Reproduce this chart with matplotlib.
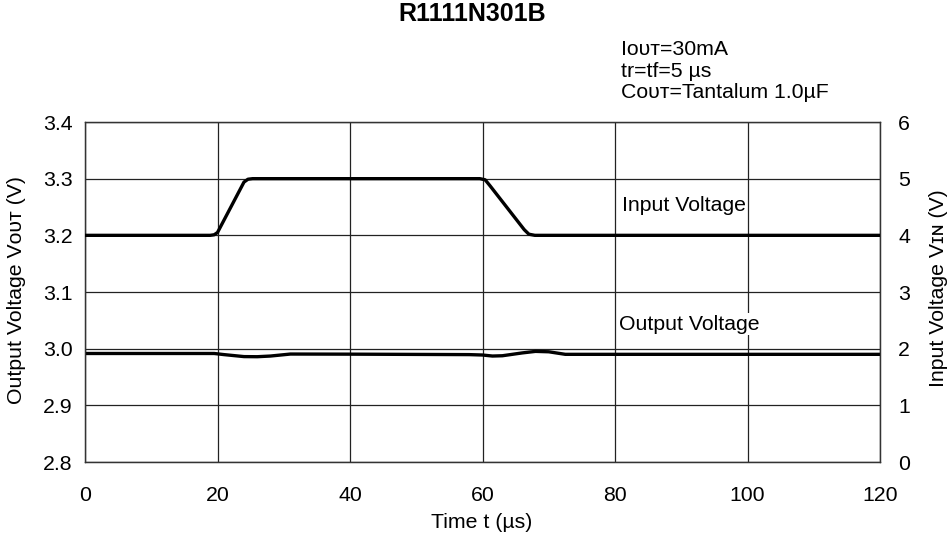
import matplotlib
matplotlib.use("Agg")
import matplotlib.pyplot as plt

plt.rcParams['font.family'] = ['Liberation Sans', 'DejaVu Sans']

# Data
t_in = [0, 18.9, 19.5, 20.0, 24.0, 24.6, 25.3, 59.6, 60.4, 61.1, 66.3, 67.0, 67.9, 120]
v_in = [4.0, 4.0, 4.01, 4.05, 4.94, 4.99, 5.0, 5.0, 4.98, 4.88, 4.10, 4.02, 4.0, 4.0]

t_out = [0, 19.5, 21, 24, 26, 28, 31, 40, 58, 60, 61.5, 63, 66, 68, 70, 72.5, 80, 120]
v_out = [2.9915, 2.9915, 2.9895, 2.986, 2.9858, 2.987, 2.9905, 2.9903, 2.9895, 2.9888,
         2.9870, 2.9875, 2.9925, 2.9952, 2.9945, 2.990, 2.990, 2.990]

x_ticks = [0, 20, 40, 60, 80, 100, 120]
y_ticks = [2.8, 2.9, 3.0, 3.1, 3.2, 3.3, 3.4]
y2_ticks = [0, 1, 2, 3, 4, 5, 6]

FS = 15.3
W, H = 950, 539
fig = plt.figure(figsize=(W / 100, H / 100), dpi=100)
ax = fig.add_axes([85 / W, 1 - 462 / H, 795 / W, 340 / H])
ax2 = ax.twinx()

ax.set_xlim(0, 120)
ax.set_ylim(2.8, 3.4)
ax2.set_ylim(0, 6)
ax.set_xticks(x_ticks)
ax.set_yticks(y_ticks)
ax.set_yticklabels([f"{v:.1f}" for v in y_ticks])
ax2.set_yticks(y2_ticks)

ax.grid(True, color='#222222', linewidth=0.9)
ax.tick_params(axis='x', length=0, pad=17, labelsize=FS)
ax.tick_params(axis='y', length=0, pad=9, labelsize=FS)
ax2.tick_params(axis='y', length=0, pad=13, labelsize=FS)
for a in (ax, ax2):
    for s in a.spines.values():
        s.set_linewidth(0.9)
        s.set_color('#333333')

ax.plot(t_out, v_out, color='black', linewidth=2.4, solid_capstyle='round', solid_joinstyle='round', zorder=5)
ax2.plot(t_in, v_in, color='black', linewidth=2.4, solid_capstyle='round', solid_joinstyle='round', zorder=5)

bb = dict(facecolor='white', edgecolor='none', pad=1)
ax.text(81.0, 3.252, "Input Voltage", fontsize=FS, ha='left', va='center', bbox=bb, zorder=6)
ax.text(80.6, 3.043, "Output Voltage", fontsize=FS, ha='left', va='center', bbox=bb, zorder=6)

fig.text(472.5 / W, 1 - 14 / H, "R1111N301B", fontsize=18, fontweight='bold', ha='center', va='center')
fig.text(621 / W, 1 - 55 / H, "I\u1d0f\u1d1c\u1d1b=30mA", fontsize=FS, ha='left', va='baseline')
fig.text(621 / W, 1 - 76.7 / H, "tr=tf=5 \u00b5s", fontsize=FS, ha='left', va='baseline')
fig.text(621 / W, 1 - 98.3 / H, "C\u1d0f\u1d1c\u1d1b=Tantalum 1.0\u00b5F", fontsize=FS, ha='left', va='baseline')

fig.text(17 / W, 1 - 290 / H, "Output Voltage V\u1d0f\u1d1c\u1d1b (V)", fontsize=FS, rotation=90, ha='center', va='center')
fig.text(938 / W, 1 - 288 / H, "Input Voltage V\u026a\u0274 (V)", fontsize=FS, rotation=90, ha='center', va='center')
fig.text(482 / W, 1 - 523 / H, "Time t (\u00b5s)", fontsize=FS, ha='center', va='center')

fig.savefig("out.png", dpi=100)
